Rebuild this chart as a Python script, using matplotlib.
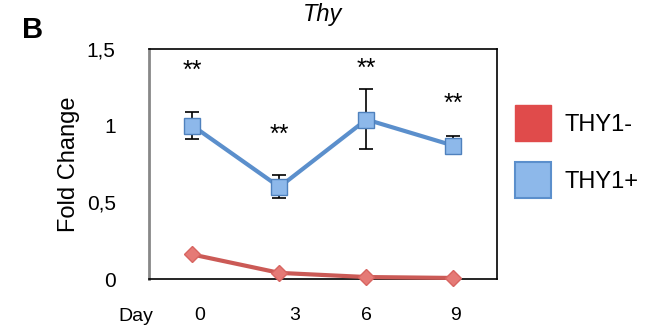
import matplotlib
matplotlib.use("Agg")
import matplotlib.pyplot as plt
import matplotlib.transforms as mtransforms
from matplotlib.lines import Line2D

days = ["0", "3", "6", "9"]
thy_pos = [1.00, 0.60, 1.04, 0.87]
thy_pos_err_lo = [0.09, 0.07, 0.19, 0.05]
thy_pos_err_hi = [0.09, 0.08, 0.20, 0.06]
thy_neg = [0.16, 0.04, 0.013, 0.007]
stars_y = [1.36, 0.94, 1.37, 1.14]

plt.rcParams['font.family'] = ['Liberation Sans', 'DejaVu Sans']

fig = plt.figure(figsize=(6.54, 3.31), dpi=100)
ax = fig.add_axes([0.2278, 0.157, 0.532, 0.695])

x = list(range(len(days)))

ax.errorbar(x, thy_pos, yerr=[thy_pos_err_lo, thy_pos_err_hi], fmt='none',
            ecolor='black', elinewidth=1.2, capsize=5, capthick=1.2, zorder=2)
ax.plot(x, thy_pos, color='#5b8fcc', lw=3, marker='s', ms=11,
        mfc='#8db8ea', mec='#4f81bd', mew=1, zorder=3)
ax.plot(x, thy_neg, color='#cb5a56', lw=3, marker='D', ms=8,
        mfc='#e57a76', mec='#d86561', mew=1, zorder=3, clip_on=False)

for xi, sy in zip(x, stars_y):
    ax.text(xi, sy, "**", ha='center', va='center', fontsize=18)

ax.set_xlim(-0.5, 3.5)
ax.set_ylim(0, 1.5)
ax.set_yticks([0, 0.5, 1, 1.5])
ax.set_yticklabels(["0", "0,5", "1", "1,5"], fontsize=15)
ax.set_xticks(x)
ax.set_xticklabels(days, fontsize=14)
ax.tick_params(length=0)
ax.tick_params(axis='x', pad=20)
ax.tick_params(axis='y', pad=24)

# Excel-style label offsets
shifts = [7, 15, 0, 2]
for lab, dx in zip(ax.get_xticklabels(), shifts):
    lab.set_transform(lab.get_transform() +
                      mtransforms.ScaledTranslation(dx / 100, 0, fig.dpi_scale_trans))

for s in ax.spines.values():
    s.set_color('black')
    s.set_linewidth(1.2)
ax.spines['left'].set_color('#888888')
ax.spines['left'].set_linewidth(2)

ax.set_ylabel("Fold Change", fontsize=17, labelpad=5)
ax.set_title("Thy", fontsize=17, style='italic', pad=20)

fig.text(0.05, 0.91, "B", fontsize=21, fontweight='bold', ha='center', va='center')
fig.text(0.207, 0.045, "Day", fontsize=14, ha='center', va='center')

handles = [
    Line2D([], [], ls='none', marker='s', ms=26, mfc='#e04b4b', mec='#e04b4b'),
    Line2D([], [], ls='none', marker='s', ms=26, mfc='#8db8ea', mec='#5b8fcc', mew=1.5),
]
fig.legend(handles, ["THY1-", "THY1+"], loc='upper left',
           bbox_to_anchor=(0.755, 0.72), frameon=False, fontsize=17,
           labelspacing=1.5, handletextpad=0.6, handlelength=1.5)

fig.savefig("out.png", dpi=100)
